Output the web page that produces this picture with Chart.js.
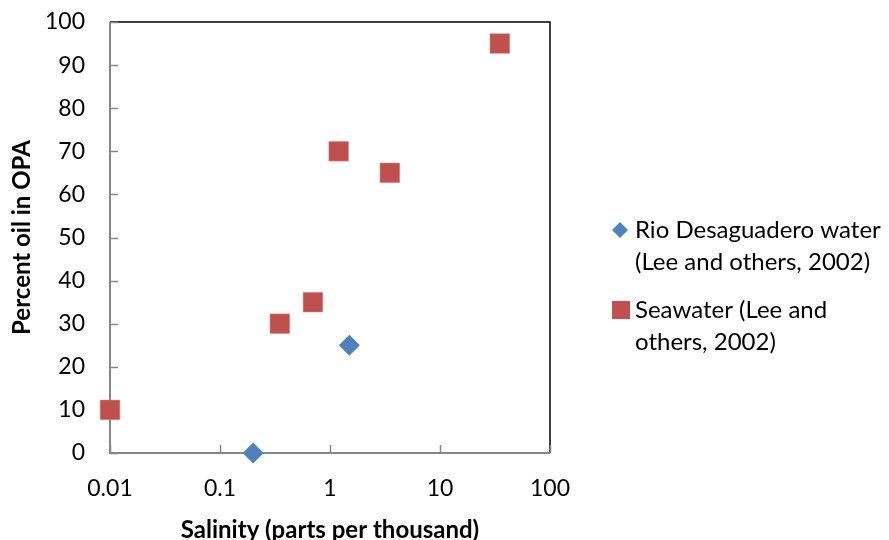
<!DOCTYPE html>
<html><head><meta charset="utf-8">
<script src="https://cdn.jsdelivr.net/npm/chart.js@4"></script>
<style>html,body{margin:0;padding:0;background:#fff}#c{display:block}</style>
</head><body>
<canvas id="c" width="889" height="540"></canvas>
<script>
const rioSalinity = [0.2, 1.5];
const rioPercent = [0, 25];
const seaSalinity = [0.01, 0.35, 0.7, 1.2, 3.5, 35];
const seaPercent = [10, 30, 35, 70, 65, 95];
const xTicks = [0.01, 0.1, 1, 10, 100];
const yTicks = [0, 10, 20, 30, 40, 50, 60, 70, 80, 90, 100];
const seriesNames = [["Rio Desaguadero water", "(Lee and others, 2002)"], ["Seawater (Lee and", "others, 2002)"]];
const xTitle = "Salinity (parts per thousand)";
const yTitle = "Percent oil in OPA";

const FONT = "Lato, 'Open Sans', sans-serif";
const BLUE = "#4F81BD", RED = "#C0504D";

const toPts = (xs, ys) => xs.map((x, i) => ({x: x, y: ys[i]}));

const framePlugin = {
  id: 'frame',
  beforeDatasetsDraw(chart) {
    const {ctx, chartArea: a, scales} = chart;
    ctx.save();
    ctx.strokeStyle = '#000'; ctx.lineWidth = 1.5;
    ctx.beginPath();
    ctx.moveTo(a.left, a.top); ctx.lineTo(a.right, a.top); ctx.lineTo(a.right, a.bottom);
    ctx.stroke();
    ctx.strokeStyle = '#868686'; ctx.lineWidth = 2;
    ctx.beginPath();
    ctx.moveTo(a.left, a.top); ctx.lineTo(a.left, a.bottom); ctx.lineTo(a.right, a.bottom);
    ctx.stroke();
    ctx.lineWidth = 1.5;
    ctx.beginPath();
    yTicks.forEach(v => { const p = Math.round(scales.y.getPixelForValue(v)) + 0.5; ctx.moveTo(a.left, p); ctx.lineTo(a.left + 8, p); });
    xTicks.forEach(v => { const p = Math.round(scales.x.getPixelForValue(v)) + 0.5; ctx.moveTo(p, a.bottom); ctx.lineTo(p, a.bottom - 8); });
    ctx.stroke();
    ctx.restore();
  },
  afterDraw(chart) {
    const {ctx} = chart;
    ctx.save();
    ctx.font = "24px " + FONT;
    ctx.textBaseline = 'middle';
    const tx = 635, lh = 32;
    const starts = [230, 310];
    chart.data.datasets.forEach((ds, i) => {
      const y0 = starts[i];
      ctx.fillStyle = ds.backgroundColor;
      if (ds.pointStyle === 'rectRot') {
        ctx.beginPath();
        ctx.moveTo(620, y0 - 8); ctx.lineTo(628, y0); ctx.lineTo(620, y0 + 8); ctx.lineTo(612, y0);
        ctx.closePath(); ctx.fill();
      } else {
        ctx.fillRect(612, y0 - 9, 18, 18);
      }
      ctx.fillStyle = '#000';
      seriesNames[i].forEach((t, j) => ctx.fillText(t, tx, y0 + j * lh));
    });
    ctx.restore();
  }
};

new Chart(document.getElementById('c'), {
  type: 'scatter',
  data: {
    datasets: [
      {label: seriesNames[0].join(' '), data: toPts(rioSalinity, rioPercent), pointStyle: 'rectRot', radius: 10.5, hoverRadius: 10.5,
       backgroundColor: BLUE, borderColor: BLUE, borderWidth: 0, clip: false},
      {label: seriesNames[1].join(' '), data: toPts(seaSalinity, seaPercent), pointStyle: 'rect', radius: 14, hoverRadius: 14,
       backgroundColor: RED, borderColor: '#D9A3A2', borderWidth: 0.5, clip: false}
    ]
  },
  options: {
    responsive: false, animation: false,
    layout: {autoPadding: false, padding: {top: 22, right: 339, left: 0, bottom: 0}},
    plugins: {legend: {display: false}, tooltip: {enabled: false}},
    scales: {
      x: {
        type: 'logarithmic', min: 0.01, max: 100,
        afterBuildTicks: s => { s.ticks = xTicks.map(v => ({value: v})); },
        afterFit: s => { s.height = 87; s.paddingLeft = 0; s.paddingRight = 0; },
        grid: {display: false, drawTicks: false},
        border: {display: false},
        ticks: {color: '#000', font: {family: FONT, size: 23}, padding: 22, maxRotation: 0, autoSkip: false,
                callback: v => String(v)},
        title: {display: true, text: xTitle, color: '#000', font: {family: FONT, size: 24, weight: 'bold', lineHeight: 0.85}, padding: {top: 0, bottom: 0}}
      },
      y: {
        min: 0, max: 100,
        afterBuildTicks: s => { s.ticks = yTicks.map(v => ({value: v})); },
        afterFit: s => { s.width = 110; s.paddingTop = 0; s.paddingBottom = 0; },
        grid: {display: false, drawTicks: false},
        border: {display: false},
        ticks: {color: '#000', font: {family: FONT, size: 23}, padding: 25},
        title: {display: true, text: yTitle, color: '#000', font: {family: FONT, size: 24, weight: 'bold'}, padding: {top: 8, bottom: 0}}
      }
    }
  },
  plugins: [framePlugin]
});
</script>
</body></html>
